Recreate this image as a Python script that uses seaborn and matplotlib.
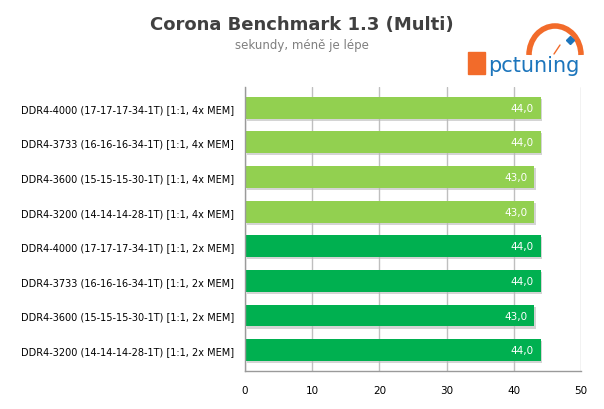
import matplotlib
matplotlib.use("Agg")
import matplotlib.pyplot as plt
import matplotlib.patches as mpatches
import pandas as pd
import seaborn as sns

# Data
labels = [
    "DDR4-4000 (17-17-17-34-1T) [1:1, 4x MEM]",
    "DDR4-3733 (16-16-16-34-1T) [1:1, 4x MEM]",
    "DDR4-3600 (15-15-15-30-1T) [1:1, 4x MEM]",
    "DDR4-3200 (14-14-14-28-1T) [1:1, 4x MEM]",
    "DDR4-4000 (17-17-17-34-1T) [1:1, 2x MEM]",
    "DDR4-3733 (16-16-16-34-1T) [1:1, 2x MEM]",
    "DDR4-3600 (15-15-15-30-1T) [1:1, 2x MEM]",
    "DDR4-3200 (14-14-14-28-1T) [1:1, 2x MEM]",
]
values = [44.0, 44.0, 43.0, 43.0, 44.0, 44.0, 43.0, 44.0]
groups = ["4x", "4x", "4x", "4x", "2x", "2x", "2x", "2x"]
group_colors = {"4x": "#92D050", "2x": "#00B050"}

df = pd.DataFrame({"label": labels, "value": values, "group": groups})

sns.set_theme(style="white")
plt.rcParams['font.family'] = ['DejaVu Sans']

fig = plt.figure(figsize=(6.04, 4.10), dpi=100)
ax = fig.add_axes([0.4056, 0.0927, 0.5563, 0.693])

# shadow bars
for i, v in enumerate(values):
    ax.barh(i + 0.06, v, height=0.63, left=0.25, color="#b8b8b8", alpha=0.6,
            zorder=1, linewidth=0)

sns.barplot(data=df, x="value", y="label", hue="group", palette=group_colors,
            dodge=False, legend=False, width=0.63, ax=ax, zorder=2,
            linewidth=0, saturation=1)

for i, v in enumerate(values):
    ax.text(v - 1.0, i, f"{v:.1f}".replace(".", ","), ha="right", va="center",
            color="white", fontsize=7.5, zorder=3)

ax.set_xlim(0, 50)
ax.set_ylim(7.6, -0.6)
ax.set_xticks(range(0, 51, 10))
ax.xaxis.grid(True, color="#bfbfbf", linewidth=1)
ax.set_axisbelow(True)
ax.set_xlabel("")
ax.set_ylabel("")
ax.tick_params(axis="x", labelsize=7.5, pad=10, length=0, colors="#000000")
ax.tick_params(axis="y", labelsize=7, length=0, pad=8, colors="#000000")
for s in ["top", "right"]:
    ax.spines[s].set_visible(False)
for s in ["left", "bottom"]:
    ax.spines[s].set_color("#9a9a9a")
    ax.spines[s].set_linewidth(1)

# titles
fig.text(0.5, 0.94, "Corona Benchmark 1.3 (Multi)", ha="center", va="center",
         fontsize=13, fontweight="bold", color="#404040")
fig.text(0.5, 0.888, "sekundy, méně je lépe", ha="center", va="center",
         fontsize=8.5, color="#7f7f7f")

# logo
fig.patches.append(mpatches.Rectangle((468 / 604, 1 - 75 / 410), 17 / 604, 22 / 410,
                                      transform=fig.transFigure, color="#F26B2A"))
fig.text(488 / 604, 1 - 66 / 410, "pctuning", ha="left", va="center",
         fontsize=15, color="#1C75BC")
arc = mpatches.Arc((555 / 604, 1 - 56 / 410), 52 / 604, 58 / 410, theta1=0, theta2=180,
                   transform=fig.transFigure, color="#F26B2A", linewidth=4)
fig.patches.append(arc)
fig.lines.append(plt.Line2D([554 / 604, 560 / 604], [1 - 55 / 410, 1 - 46 / 410],
                            transform=fig.transFigure, color="#F26B2A", linewidth=1))
fig.lines.append(plt.Line2D([570 / 604], [1 - 41 / 410], marker="D", markersize=4,
                            transform=fig.transFigure, color="#1C75BC", linewidth=0))

fig.savefig("out.png", dpi=100)
